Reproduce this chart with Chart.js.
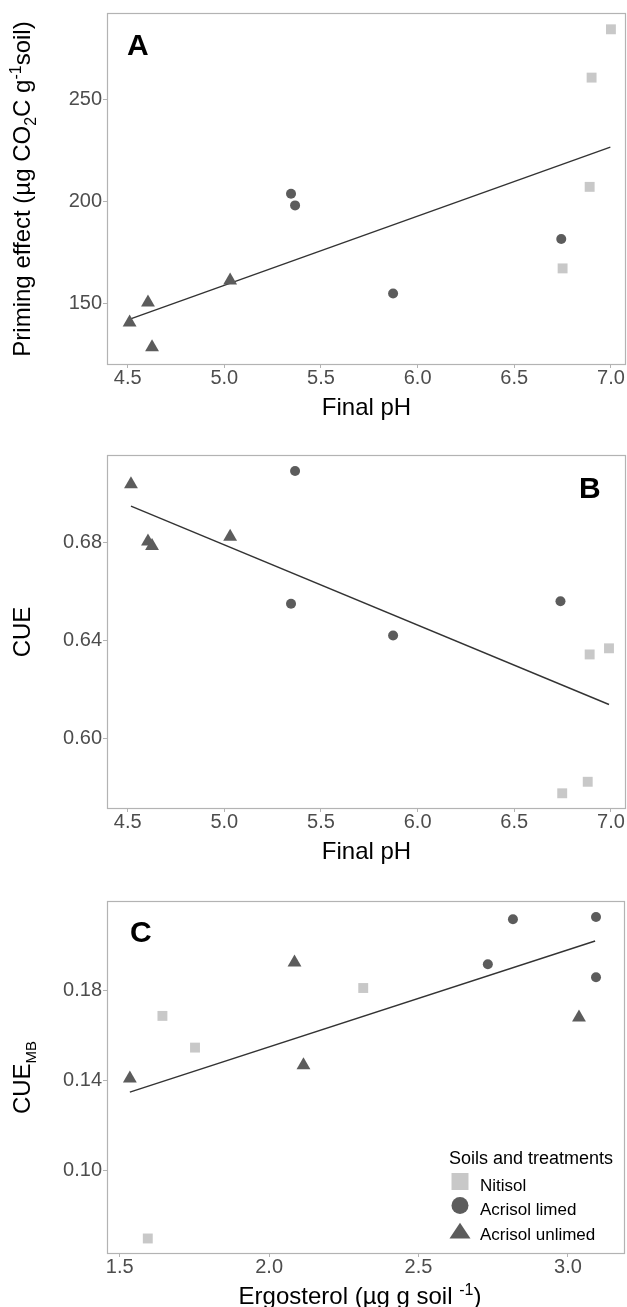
<!DOCTYPE html>
<html>
<head>
<meta charset="utf-8">
<script src="https://cdn.jsdelivr.net/npm/chart.js@4.4.1/dist/chart.umd.min.js"></script>
<style>
  html, body { margin: 0; padding: 0; background: #fff; }
  #wrap { position: relative; width: 627px; height: 1307px; overflow: hidden; }
  canvas { position: absolute; left: 0; }
</style>
</head>
<body>
<div id="wrap">
  <canvas id="chartA" width="627" height="440" style="top:0px"></canvas>
  <canvas id="chartB" width="627" height="460" style="top:420px"></canvas>
  <canvas id="chartC" width="627" height="457" style="top:850px"></canvas>
</div>
<script>
// Soil groups (legend order)
const soilGroups = ['Nitisol', 'Acrisol limed', 'Acrisol unlimed'];

// Panel A - priming effect vs final pH
const phNitisolA = [6.75, 6.89, 6.90, 7.00];
const primingNitisol = [167, 207, 260.6, 284.3];
const phLimedA = [5.345, 5.366, 5.873, 6.743];
const primingLimed = [203.6, 197.9, 154.7, 181.4];
const phUnlimedA = [4.51, 4.605, 4.626, 5.03];
const primingUnlimed = [140.5, 150.3, 128.3, 161];
const fitPhA = [4.515, 6.997];
const fitPrimingA = [142.2, 226.5];

// Panel B - CUE vs final pH
const phNitisolB = [6.99, 6.89, 6.88, 6.748];
const cueNitisol = [0.6369, 0.6344, 0.5825, 0.5778];
const phLimedB = [5.366, 5.345, 5.873, 6.739];
const cueLimed = [0.7092, 0.6551, 0.6421, 0.6561];
const phUnlimedB = [4.517, 4.605, 4.626, 5.03];
const cueUnlimed = [0.7038, 0.6804, 0.6786, 0.6824];
const fitPhB = [4.517, 6.99];
const fitCueB = [0.6949, 0.614];

// Panel C - CUE_MB vs ergosterol
const ergNitisol = [1.643, 1.752, 2.315, 1.594];
const cueMbNitisol = [0.1686, 0.1545, 0.181, 0.0696];
const ergLimed = [2.816, 3.094, 2.732, 3.094];
const cueMbLimed = [0.2116, 0.2126, 0.1916, 0.1858];
const ergUnlimed = [1.534, 2.085, 2.115, 3.037];
const cueMbUnlimed = [0.1407, 0.1923, 0.1467, 0.1679];
const fitErgC = [1.534, 3.091];
const fitCueMbC = [0.1347, 0.2019];

// Tick labels
const ticksPh = [4.5, 5.0, 5.5, 6.0, 6.5, 7.0];
const ticksPriming = [150, 200, 250];
const ticksCue = [0.60, 0.64, 0.68];
const ticksErg = [1.5, 2.0, 2.5, 3.0];
const ticksCueMb = [0.10, 0.14, 0.18];

// Styles
const FONT = "'Liberation Sans', Arial, sans-serif";
const cores = {
  nitisol: '#c8c8c8',
  limed: '#5c5c5c',
  unlimed: '#5c5c5c',
  fit: '#333333',
  border: '#b3b3b3',
  tick: '#4d4d4d'
};

function pontos(xs, ys) {
  return xs.map((x, i) => ({ x: x, y: ys[i] }));
}

function datasets(xN, yN, xL, yL, xU, yU, fx, fy) {
  return [
    { label: soilGroups[0], data: pontos(xN, yN), pointStyle: 'rect', pointRadius: 7,
      backgroundColor: cores.nitisol, borderWidth: 0 },
    { label: soilGroups[1], data: pontos(xL, yL), pointStyle: 'circle', pointRadius: 5,
      backgroundColor: cores.limed, borderWidth: 0 },
    { label: soilGroups[2], data: pontos(xU, yU), pointStyle: 'triangle', pointRadius: 8,
      backgroundColor: cores.unlimed, borderWidth: 0 },
    { type: 'line', label: 'fit', data: pontos(fx, fy), showLine: true, pointRadius: 0,
      borderColor: cores.fit, borderWidth: 1.4, fill: false }
  ];
}

function escalas(xr, yr, xTicks, yTicks, xDec, yDec, xh) {
  return {
    x: {
      type: 'linear', min: xr[0], max: xr[1],
      afterBuildTicks: s => { s.ticks = xTicks.map(v => ({ value: v })); },
      afterFit: s => { s.height = xh; s.paddingLeft = 0; s.paddingRight = 0; },
      grid: { drawOnChartArea: false, drawTicks: true, tickLength: 3, color: cores.border },
      border: { display: false },
      ticks: { font: { size: 20, family: FONT }, color: cores.tick, padding: -2,
        maxRotation: 0, autoSkip: false, callback: v => v.toFixed(xDec) }
    },
    y: {
      type: 'linear', min: yr[0], max: yr[1],
      afterBuildTicks: s => { s.ticks = yTicks.map(v => ({ value: v })); },
      afterFit: s => { s.width = 107; s.paddingTop = 0; s.paddingBottom = 0; },
      grid: { drawOnChartArea: false, drawTicks: true, tickLength: 4, color: cores.border },
      border: { display: false },
      ticks: { font: { size: 20, family: FONT }, color: cores.tick, padding: 1,
        autoSkip: false, callback: v => v.toFixed(yDec) }
    }
  };
}

// text with sub/superscripts: parts = [text, size, shift]
function textoRico(ctx, parts, x, y, rotate) {
  ctx.save();
  ctx.translate(x, y);
  if (rotate) ctx.rotate(-Math.PI / 2);
  let total = 0;
  parts.forEach(p => { ctx.font = p[1] + 'px ' + FONT; total += ctx.measureText(p[0]).width; });
  let cx = -total / 2;
  ctx.fillStyle = '#000';
  ctx.textBaseline = 'alphabetic';
  ctx.textAlign = 'left';
  parts.forEach(p => {
    ctx.font = p[1] + 'px ' + FONT;
    ctx.fillText(p[0], cx, p[2]);
    cx += ctx.measureText(p[0]).width;
  });
  ctx.restore();
}

function simbolo(ctx, tipo, x, y, s, cor) {
  ctx.fillStyle = cor;
  ctx.beginPath();
  if (tipo === 'rect') {
    ctx.rect(x - s / 2, y - s / 2, s, s);
  } else if (tipo === 'circle') {
    ctx.arc(x, y, s / 2, 0, Math.PI * 2);
  } else {
    const h = s * 0.75;
    ctx.moveTo(x, y - h / 2);
    ctx.lineTo(x + s / 2, y + h / 2);
    ctx.lineTo(x - s / 2, y + h / 2);
    ctx.closePath();
  }
  ctx.fill();
}

function decoracao(cfg) {
  return {
    id: 'decoracao',
    afterDraw(chart) {
      const ctx = chart.ctx;
      const a = chart.chartArea;
      // panel border
      ctx.save();
      ctx.strokeStyle = cores.border;
      ctx.lineWidth = 1.2;
      ctx.strokeRect(a.left + 0.5, a.top + 0.5, a.right - a.left - 1, a.bottom - a.top - 1);
      ctx.restore();
      // panel letter
      ctx.save();
      ctx.font = 'bold 30px ' + FONT;
      ctx.fillStyle = '#000';
      ctx.textBaseline = 'alphabetic';
      ctx.fillText(cfg.letra, cfg.letraX(a), a.top + cfg.letraY);
      ctx.restore();
      // axis titles
      textoRico(ctx, cfg.tituloX, cfg.tituloXc || (a.left + a.right) / 2, a.bottom + 50, false);
      textoRico(ctx, cfg.tituloY, 30, (a.top + a.bottom) / 2, true);
      if (cfg.legenda) cfg.legenda(ctx, a);
    }
  };
}

function desenharLegenda(ctx, a) {
  const top = a.top;
  ctx.save();
  ctx.fillStyle = '#000';
  ctx.font = '18px ' + FONT;
  ctx.textBaseline = 'alphabetic';
  ctx.fillText('Soils and treatments', 449, top + 263);
  const tipos = ['rect', 'circle', 'triangle'];
  const tam = [17, 17, 21];
  const corS = [cores.nitisol, cores.limed, cores.unlimed];
  const cy = [280.5, 304.5, 329.5];
  soilGroups.forEach((g, i) => {
    simbolo(ctx, tipos[i], 460, top + cy[i], tam[i], corS[i]);
    ctx.fillStyle = '#000';
    ctx.font = '17px ' + FONT;
    ctx.fillText(g, 480, top + cy[i] + 9.5);
  });
  ctx.restore();
}

function criarGrafico(id, ds, sc, pad, deco) {
  const ctx = document.getElementById(id).getContext('2d');
  return new Chart(ctx, {
    type: 'scatter',
    data: { datasets: ds },
    options: {
      responsive: false,
      animation: false,
      devicePixelRatio: 1,
      layout: { padding: pad, autoPadding: false },
      plugins: { legend: { display: false }, tooltip: { enabled: false } },
      scales: sc
    },
    plugins: [decoracao(deco)]
  });
}

document.addEventListener('DOMContentLoaded', () => {
  criarGrafico('chartA',
    datasets(phNitisolA, primingNitisol, phLimedA, primingLimed, phUnlimedA, primingUnlimed, fitPhA, fitPrimingA),
    escalas([4.393, 7.078], [119.6, 292.3], ticksPh, ticksPriming, 1, 0, 75),
    { top: 13, right: 1, left: 0, bottom: 0 },
    {
      letra: 'A', letraX: a => a.left + 20, letraY: 42,
      tituloX: [['Final pH', 24, 0]],
      tituloY: [['Priming effect (µg CO', 24, 0], ['2', 16, 6], ['C g', 24, 0], ['-1', 16, -9], ['soil)', 24, 0]]
    });

  criarGrafico('chartB',
    datasets(phNitisolB, cueNitisol, phLimedB, cueLimed, phUnlimedB, cueUnlimed, fitPhB, fitCueB),
    escalas([4.393, 7.078], [0.5714, 0.7157], ticksPh, ticksCue, 1, 2, 71),
    { top: 35, right: 1, left: 0, bottom: 0 },
    {
      letra: 'B', letraX: a => a.right - 47, letraY: 43,
      tituloX: [['Final pH', 24, 0]],
      tituloY: [['CUE', 24, 0]]
    });

  criarGrafico('chartC',
    datasets(ergNitisol, cueMbNitisol, ergLimed, cueMbLimed, ergUnlimed, cueMbUnlimed, fitErgC, fitCueMbC),
    escalas([1.4575, 3.191], [0.0627, 0.2197], ticksErg, ticksCueMb, 1, 2, 53),
    { top: 51, right: 2, left: 0, bottom: 0 },
    {
      letra: 'C', letraX: a => a.left + 23, letraY: 41,
      tituloX: [['Ergosterol (µg g soil ', 24, 0], ['-1', 16, -9], [')', 24, 0]],
      tituloXc: 360,
      tituloY: [['CUE', 24, 0], ['MB', 15, 6]],
      legenda: desenharLegenda
    });
});
</script>
</body>
</html>
